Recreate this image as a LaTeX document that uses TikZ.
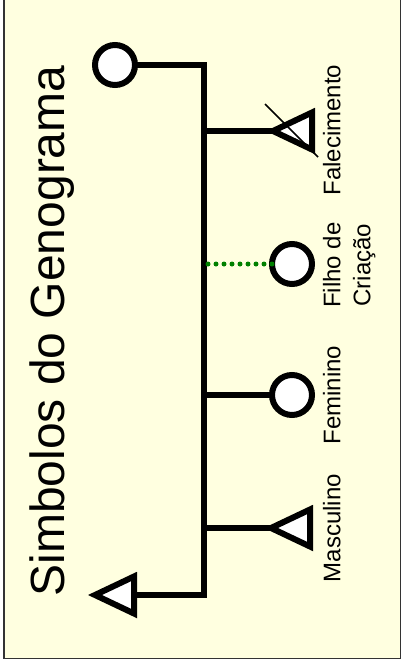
\documentclass[tikz,border=0pt]{standalone}
\usepackage{fontspec}
\setmainfont{Liberation Sans}
\usetikzlibrary{shapes.geometric}
\definecolor{bgyellow}{HTML}{FFFFE0}
\definecolor{dotgreen}{RGB}{0,128,0}
\begin{document}
\begin{tikzpicture}[x=1pt,y=-1pt,inner sep=0pt,outer sep=0pt,line width=6pt,
female/.style={draw,circle,fill=white,minimum size=40pt},
male/.style={draw,isosceles triangle,isosceles triangle stretches,shape border rotate=180,fill=white,minimum width=37pt,minimum height=39pt},
symtext/.style={rotate=90,anchor=north,font=\fontsize{24}{30}\selectfont}]

\useasboundingbox (0,0) rectangle (404,665);
\draw[black!80,line width=1.5pt,fill=bgyellow] (4,-10) rectangle (400.5,658.5);

\draw (30,331) node[rotate=90,anchor=north,font=\fontsize{48}{48}\selectfont] (title) {Simbolos do Genograma};

\draw (115,65) node[female] (top) {};
\draw (273,131) node[male,anchor=apex] (fal) {};
\draw (292,264) node[female] (fil) {};
\draw (292,395) node[female] (fem) {};
\draw (271,528) node[male,anchor=apex] (mas) {};
\draw (134,595) node[male,anchor=lower side] (bot) {};

\coordinate (jtop) at (204,65);
\coordinate (jbot) at (204,595);

\draw (top) -- (jtop) -- (jbot) -- (bot.lower side);
\draw (fal.apex) -- (fal.apex -| jtop);
\draw[dotgreen,line width=5pt,line cap=round,dash pattern=on 0pt off 8pt] (fil) -- (fil -| jtop);
\draw (fem) -- (fem -| jtop);
\draw (mas.apex) -- (mas.apex -| jtop);
\draw[line width=1.5pt] (265,104) -- (318,157);

\draw (323,130) node[symtext] (tfal) {Falecimento};
\draw (323,265) node[symtext,align=center] (tfil) {Filho de\\Criação};
\draw (323,395) node[symtext] (tfem) {Feminino};
\draw (323,528) node[symtext] (tmas) {Masculino};
\end{tikzpicture}
\end{document}
